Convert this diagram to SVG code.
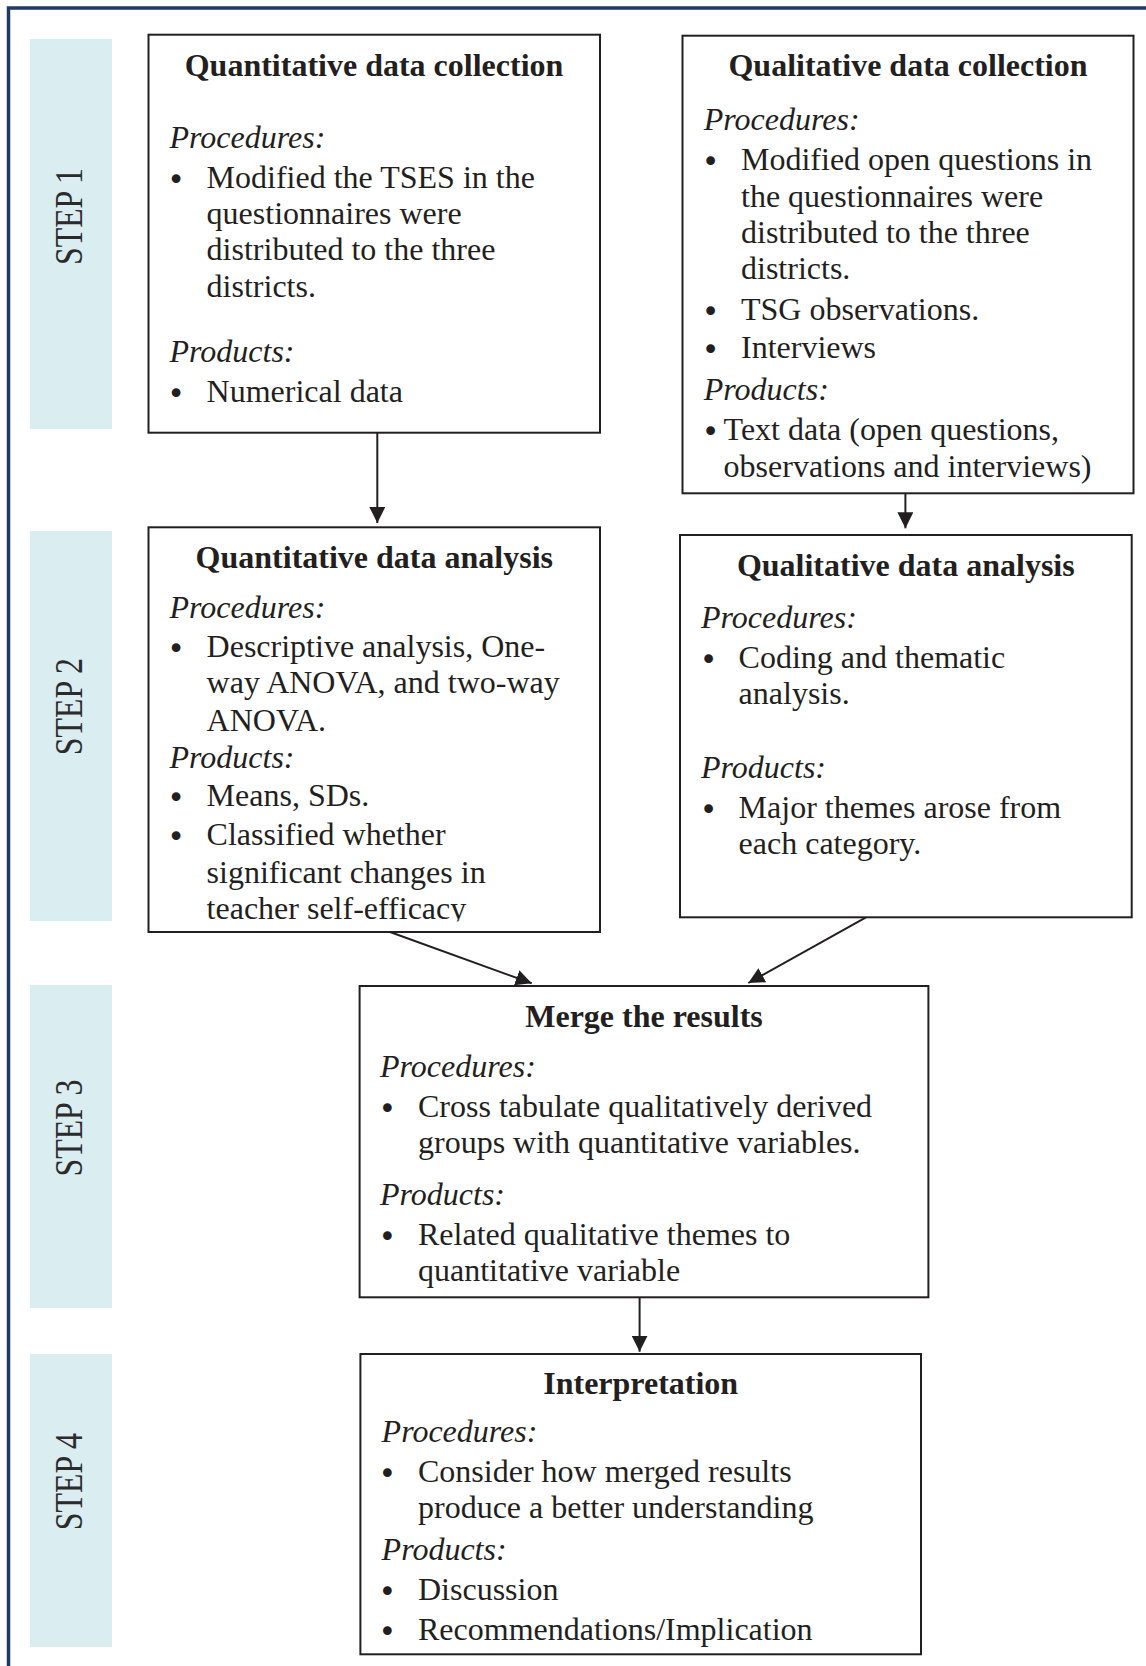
<svg xmlns="http://www.w3.org/2000/svg" width="1146" height="1666" viewBox="0 0 1146 1666">
<style>
text{font-family:"Liberation Serif","Times New Roman",serif;font-size:32px;fill:#231f20}
.t{font-weight:bold;text-anchor:middle}
.l{font-style:italic}
.b{text-anchor:middle;font-family:"DejaVu Sans",sans-serif;font-size:30px;transform:translate(0px,2px)}
.box{fill:#fff;stroke:#231f20;stroke-width:2}
.band{fill:#daedf1}
.step{font-size:40px;fill:#2b2b2b;text-anchor:middle}
.con line{stroke:#231f20;stroke-width:2;marker-end:url(#ah)}
</style>
<defs>
<marker id="ah" markerUnits="userSpaceOnUse" markerWidth="16" markerHeight="16" viewBox="0 0 16 16" refX="16" refY="8" orient="auto">
<path d="M0,0 L16,8 L0,16 z" fill="#231f20"/>
</marker>
<clipPath id="clip2"><rect x="140" y="520" width="470" height="401.5"/></clipPath>
</defs>
<rect width="1146" height="1666" fill="#fff"/>
<path d="M8.5 1666 V8 H1146" fill="none" stroke="#1f3a64" stroke-width="3.5"/>

<g id="steps">
<rect class="band" x="30" y="39" width="82" height="390"/>
<rect class="band" x="30" y="531" width="82" height="390"/>
<rect class="band" x="30" y="985" width="82" height="323"/>
<rect class="band" x="30" y="1354" width="82" height="293"/>
<text class="step" transform="translate(82,216.5) rotate(-90)" textLength="97" lengthAdjust="spacingAndGlyphs">STEP 1</text>
<text class="step" transform="translate(82,706.7) rotate(-90)" textLength="97" lengthAdjust="spacingAndGlyphs">STEP 2</text>
<text class="step" transform="translate(82,1128) rotate(-90)" textLength="97" lengthAdjust="spacingAndGlyphs">STEP 3</text>
<text class="step" transform="translate(82,1481.7) rotate(-90)" textLength="97" lengthAdjust="spacingAndGlyphs">STEP 4</text>
</g>

<g class="con" id="connectors">
<line x1="377.3" y1="432.7" x2="377.3" y2="523"/>
<line x1="905.4" y1="493.3" x2="905.4" y2="528.3"/>
<line x1="390" y1="932" x2="531.7" y2="983.3"/>
<line x1="866" y1="917.3" x2="748.3" y2="983"/>
<line x1="639.6" y1="1297.3" x2="639.6" y2="1351.7"/>
</g>

<g id="quant-collection">
<rect class="box" x="148.5" y="34.7" width="451.5" height="398"/>
<text class="t" x="374" y="76">Quantitative data collection</text>
<text class="l" x="169.5" y="147.7">Procedures:</text>
<text class="b" x="176" y="188">•</text>
<text x="206.6" y="188">Modified the TSES in the</text>
<text x="206.6" y="224">questionnaires were</text>
<text x="206.6" y="260">distributed to the three</text>
<text x="206.6" y="296.7">districts.</text>
<text class="l" x="169.5" y="361.7">Products:</text>
<text class="b" x="176" y="401.7">•</text>
<text x="206.6" y="401.7">Numerical data</text>
</g>

<g id="qual-collection">
<rect class="box" x="682.5" y="35.7" width="451" height="457.6"/>
<text class="t" x="908" y="76">Qualitative data collection</text>
<text class="l" x="703.8" y="130">Procedures:</text>
<text class="b" x="710.7" y="170">•</text>
<text x="741" y="170">Modified open questions in</text>
<text x="741" y="206.7">the questionnaires were</text>
<text x="741" y="243.3">distributed to the three</text>
<text x="741" y="279.3">districts.</text>
<text class="b" x="710.7" y="320">•</text>
<text x="741" y="320">TSG observations.</text>
<text class="b" x="710.7" y="358.3">•</text>
<text x="741" y="358.3">Interviews</text>
<text class="l" x="703.8" y="400">Products:</text>
<text class="b" x="710.7" y="440">•</text>
<text x="723.6" y="440">Text data (open questions,</text>
<text x="723.6" y="476.7">observations and interviews)</text>
</g>

<g id="quant-analysis">
<rect class="box" x="148.5" y="527.3" width="451.5" height="404.7"/>
<text class="t" x="374.3" y="568.3">Quantitative data analysis</text>
<text class="l" x="169.5" y="618.3">Procedures:</text>
<text class="b" x="176" y="656.7">•</text>
<text x="206.6" y="656.7">Descriptive analysis, One-</text>
<text x="206.6" y="693.3">way ANOVA, and two-way</text>
<text x="206.6" y="731">ANOVA.</text>
<text class="l" x="169.5" y="768.3">Products:</text>
<text class="b" x="176" y="806">•</text>
<text x="206.6" y="806">Means, SDs.</text>
<text class="b" x="176" y="845">•</text>
<text x="206.6" y="845">Classified whether</text>
<text x="206.6" y="882.7">significant changes in</text>
<text x="206.6" y="919.3" clip-path="url(#clip2)">teacher self-efficacy</text>
</g>

<g id="qual-analysis">
<rect class="box" x="680" y="535" width="451.7" height="382.3"/>
<text class="t" x="905.8" y="576">Qualitative data analysis</text>
<text class="l" x="701" y="628.3">Procedures:</text>
<text class="b" x="708.6" y="668.3">•</text>
<text x="738.6" y="668.3">Coding and thematic</text>
<text x="738.6" y="704">analysis.</text>
<text class="l" x="701" y="778.3">Products:</text>
<text class="b" x="708.6" y="818.3">•</text>
<text x="738.6" y="818.3">Major themes arose from</text>
<text x="738.6" y="854.3">each category.</text>
</g>

<g id="merge">
<rect class="box" x="359.6" y="986" width="568.8" height="311.3"/>
<text class="t" x="644" y="1026.7">Merge the results</text>
<text class="l" x="380" y="1076.7">Procedures:</text>
<text class="b" x="387.4" y="1116.7">•</text>
<text x="418" y="1116.7">Cross tabulate qualitatively derived</text>
<text x="418" y="1152.7">groups with quantitative variables.</text>
<text class="l" x="380" y="1205">Products:</text>
<text class="b" x="387.4" y="1245">•</text>
<text x="418" y="1245">Related qualitative themes to</text>
<text x="418" y="1280.7">quantitative variable</text>
</g>

<g id="interpretation">
<rect class="box" x="360.4" y="1354" width="560.6" height="300.3"/>
<text class="t" x="640.7" y="1394">Interpretation</text>
<text class="l" x="381.6" y="1441.7">Procedures:</text>
<text class="b" x="387.4" y="1481.7">•</text>
<text x="418" y="1481.7">Consider how merged results</text>
<text x="418" y="1518.3">produce a better understanding</text>
<text class="l" x="381.6" y="1560">Products:</text>
<text class="b" x="387.4" y="1600">•</text>
<text x="418" y="1600">Discussion</text>
<text class="b" x="387.4" y="1640">•</text>
<text x="418" y="1640">Recommendations/Implication</text>
</g>
</svg>
